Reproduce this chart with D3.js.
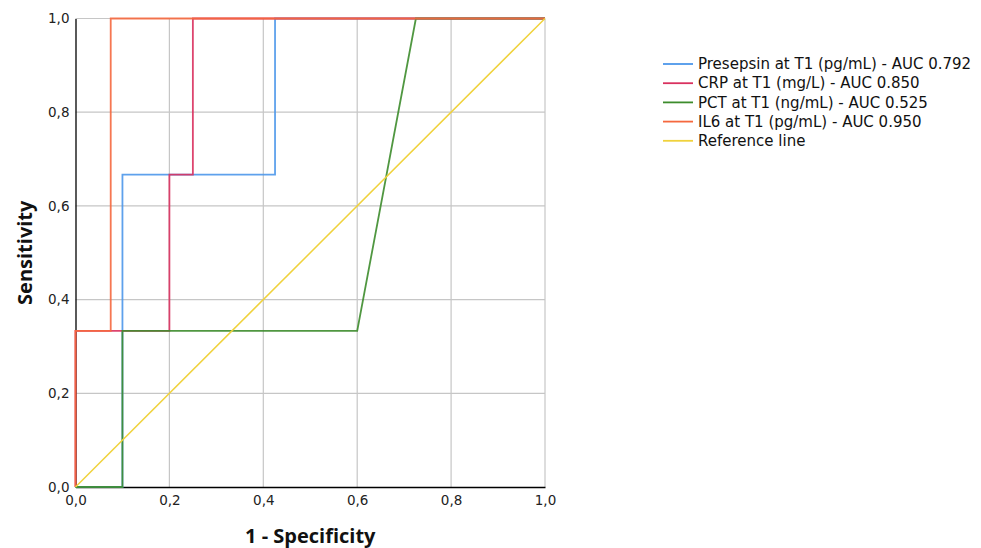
<!DOCTYPE html>
<html>
    <head>
        <title>ROC curves - D3</title>
        <script src="https://d3js.org/d3.v7.min.js"></script>
    </head>

    <body>
        <div id="root"></div>
    </body>

    <style>
body {
    margin: 0;
    background: #fff;
}
svg {
    display: block;
}
    </style>

    <script>
        // ROC points as [1 - specificity, sensitivity]
        let presepsin = [[0, 0], [0.1, 0], [0.1, 0.3333], [0.1, 0.6667], [0.425, 0.6667], [0.425, 1], [1, 1]];
        let crp = [[0, 0], [0, 0.3333], [0.2, 0.3333], [0.2, 0.6667], [0.25, 0.6667], [0.25, 1], [1, 1]];
        let pct = [[0, 0], [0.1, 0], [0.1, 0.3333], [0.6, 0.3333], [0.725, 1], [1, 1]];
        let il6 = [[0, 0], [0, 0.3333], [0.075, 0.3333], [0.075, 1], [1, 1]];
        let reference = [[0, 0], [1, 1]];

        let series_names = [
            'Presepsin at T1 (pg/mL) - AUC 0.792',
            'CRP at T1 (mg/L) - AUC 0.850',
            'PCT at T1 (ng/mL) - AUC 0.525',
            'IL6 at T1 (pg/mL) - AUC 0.950',
            'Reference line'
        ];
        let ticks = [0, 0.2, 0.4, 0.6, 0.8, 1.0];

        let render_roc = () => {
            let width = 981;
            let height = 548;
            let plot = { left: 75.5, top: 18.5, right: 545, bottom: 487 };
            let colors = ['#4c97ea', '#d9315f', '#3d8c2c', '#f5683e', '#f0d23c'];
            let series = [presepsin, crp, pct, il6, reference];

            let scale_x = d3.scaleLinear().domain([0, 1]).range([plot.left, plot.right]);
            let scale_y = d3.scaleLinear().domain([0, 1]).range([plot.bottom, plot.top]);
            let fmt = d => d3.format('.1f')(d).replace('.', ',');

            let svg = d3.select('#root').html('')
                .append('svg')
                .attr('width', width)
                .attr('height', height)
                .attr('font-family', 'DejaVu Sans, sans-serif');

            // grid
            svg.append('g')
                .attr('stroke', '#c6c6c6')
                .attr('stroke-width', 1.2)
                .call(g => g.selectAll('line.gx')
                    .data(ticks.slice(1))
                    .join('line')
                    .attr('class', 'gx')
                    .attr('x1', d => scale_x(d)).attr('x2', d => scale_x(d))
                    .attr('y1', plot.top).attr('y2', plot.bottom))
                .call(g => g.selectAll('line.gy')
                    .data(ticks.slice(1))
                    .join('line')
                    .attr('class', 'gy')
                    .attr('y1', d => scale_y(d)).attr('y2', d => scale_y(d))
                    .attr('x1', plot.left).attr('x2', plot.right));

            // axes
            let axis_x = svg.append('g')
                .attr('transform', `translate(0, ${plot.bottom})`)
                .call(d3.axisBottom(scale_x).tickValues(ticks).tickFormat(fmt).tickSize(0).tickPadding(8));
            let axis_y = svg.append('g')
                .attr('transform', `translate(${plot.left}, 0)`)
                .call(d3.axisLeft(scale_y).tickValues(ticks).tickFormat(fmt).tickSize(0).tickPadding(6));
            [axis_x, axis_y].forEach(a => {
                a.select('.domain').attr('stroke', '#000').attr('stroke-width', 1.3);
                a.selectAll('text').attr('font-size', 13.5).attr('fill', '#222')
                    .attr('font-family', 'DejaVu Sans, sans-serif');
            });

            // curves
            let line = d3.line().x(d => scale_x(d[0])).y(d => scale_y(d[1]));
            svg.append('g')
                .attr('fill', 'none')
                .selectAll('path')
                .data(series)
                .join('path')
                .attr('d', line)
                .attr('stroke', (d, i) => colors[i])
                .attr('stroke-width', (d, i) => i == 4 ? 1.5 : 1.8)
                .attr('stroke-opacity', (d, i) => i == 4 ? 1 : 0.9);

            // axis titles
            svg.append('text')
                .attr('x', scale_x(0.5))
                .attr('y', 543)
                .attr('text-anchor', 'middle')
                .attr('font-family', 'Open Sans, sans-serif')
                .attr('font-weight', 'bold')
                .attr('font-size', 20)
                .attr('fill', '#111')
                .text('1 - Specificity');
            svg.append('text')
                .attr('transform', `translate(32, ${scale_y(0.5)}) rotate(-90)`)
                .attr('text-anchor', 'middle')
                .attr('font-family', 'Open Sans, sans-serif')
                .attr('font-weight', 'bold')
                .attr('font-size', 20)
                .attr('fill', '#111')
                .text('Sensitivity');

            // legend
            let legend = svg.append('g')
                .attr('transform', 'translate(663, 64)')
                .selectAll('g')
                .data(series_names)
                .join('g')
                .attr('transform', (d, i) => `translate(0, ${i * 19.2})`);
            legend.append('line')
                .attr('x1', 0).attr('x2', 30)
                .attr('stroke', (d, i) => colors[i])
                .attr('stroke-width', 1.8);
            legend.append('text')
                .attr('x', 35)
                .attr('dy', '0.35em')
                .attr('font-size', 15)
                .attr('fill', '#111')
                .text(d => d);
        };

        render_roc();
    </script>
</html>
